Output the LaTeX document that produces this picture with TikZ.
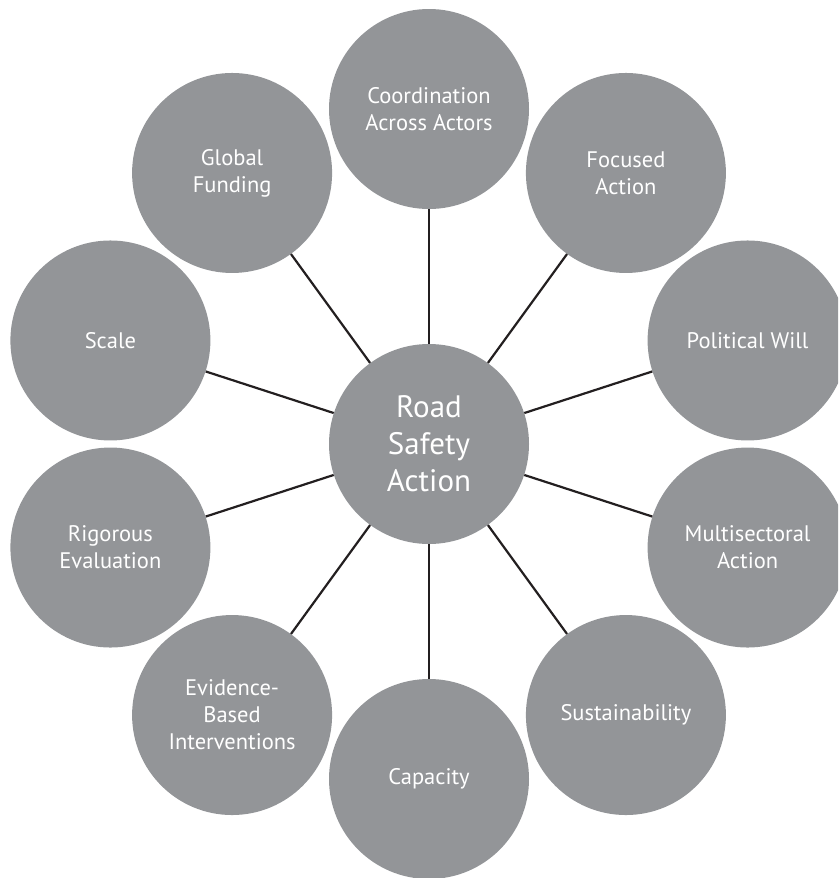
\documentclass[tikz,border=0pt]{standalone}
\usepackage{fontspec}
\setmainfont{PT Sans}
\usetikzlibrary{calc}
\definecolor{bubblegrey}{HTML}{939598}
\definecolor{linkink}{HTML}{231F20}
\tikzset{
  bubble/.style={circle, fill=bubblegrey, draw=none, minimum size=200pt, inner sep=0pt,
    text=white, align=center, font=\fontsize{22.5}{27}\selectfont},
  hub/.style={bubble, font=\fontsize{31}{37}\selectfont},
  link/.style={draw=linkink, line width=2.2pt}
}
\begin{document}
\begin{tikzpicture}[x=1pt, y=1pt]
\useasboundingbox (0,0) rectangle (838,-878);
\clip (0,0) rectangle (838,-878);
\coordinate (c) at (429,-444);
\def\ring{335pt}
\node[hub] (hub) at (c) {Road\\Safety\\Action};
\node[bubble] (coord) at ($(c)+(90:\ring)$) {Coordination\\Across Actors};
\node[bubble] (focus) at ($(c)+(54:\ring)$) {Focused\\Action};
\node[bubble] (will) at ($(c)+(18:\ring)$) {Political Will};
\node[bubble] (multi) at ($(c)+(-18:\ring)$) {Multisectoral\\Action};
\node[bubble] (sust) at ($(c)+(-54:\ring)$) {Sustainability};
\node[bubble] (capac) at ($(c)+(-90:\ring)$) {Capacity};
\node[bubble] (evid) at ($(c)+(-126:\ring)$) {Evidence-\\Based\\Interventions};
\node[bubble] (rigor) at ($(c)+(-162:\ring)$) {Rigorous\\Evaluation};
\node[bubble] (scale) at ($(c)+(162:\ring)$) {Scale};
\node[bubble] (fund) at ($(c)+(126:\ring)$) {Global\\Funding};
\foreach \n in {coord,focus,will,multi,sust,capac,evid,rigor,scale,fund}
  \draw[link] (hub) -- (\n);
\end{tikzpicture}
\end{document}
